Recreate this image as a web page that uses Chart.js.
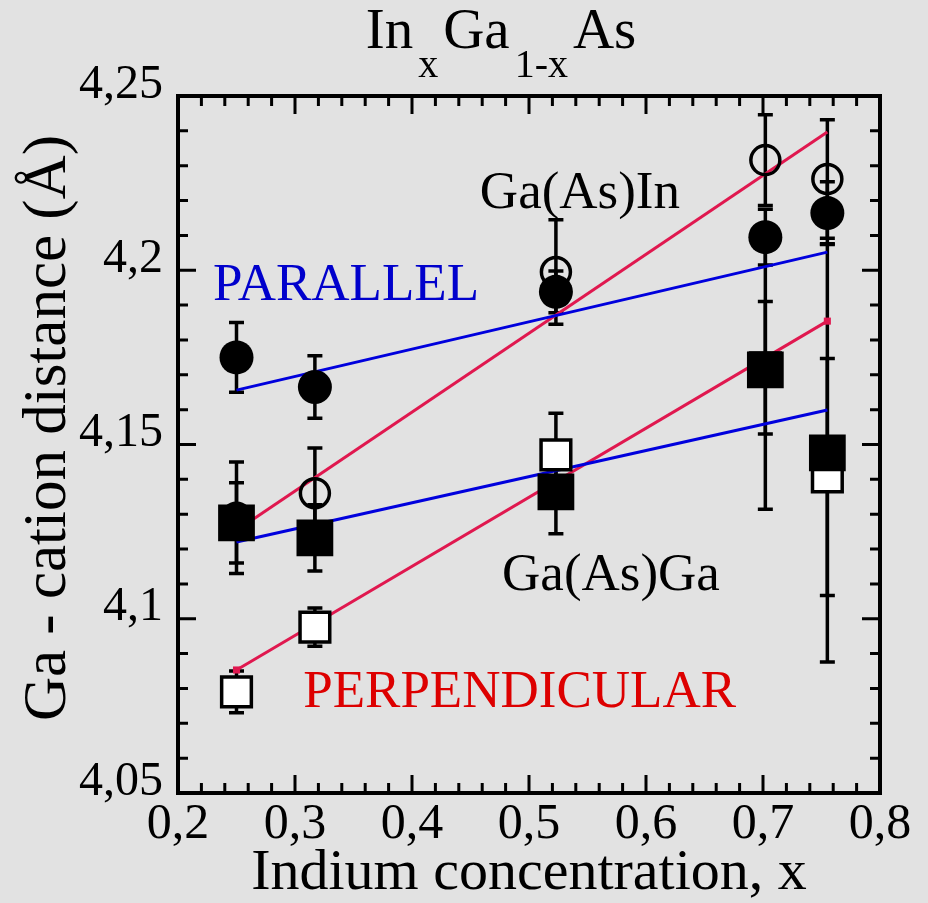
<!DOCTYPE html>
<html><head><meta charset="utf-8">
<script src="https://cdn.jsdelivr.net/npm/chart.js@4.4.1/dist/chart.umd.min.js"></script>
<style>html,body{margin:0;padding:0;background:#e2e2e2;}#wrap{width:928px;height:903px;}</style>
</head><body><div id="wrap"><canvas id="c" width="928" height="903"></canvas></div>
<script>
// ---- data ----
const indiumX = [0.25, 0.317, 0.523, 0.702, 0.755];
const parInY   = [4.175, 4.1665, 4.1938, 4.2095, 4.2164];   // filled circles
const parInErr = [0.010, 0.009, 0.006, 0.008, 0.009];
const perpInY   = [4.129, 4.136, 4.1995, 4.2316, 4.2262];   // open circles
const perpInErr = [0.016, 0.013, 0.015, 0.013, 0.017];
const parGaY   = [4.1275, 4.1232, 4.1364, 4.1714, 4.1476];  // filled squares
const parGaErr = [0.0115, 0.0095, 0.012, 0.040, 0.060];
const perpGaY   = [4.079, 4.0976, 4.147, 4.172, 4.1407];    // open squares
const perpGaErr = [0.006, 0.0055, 0.012, 0.019, 0.034];
const fitX = [0.25, 0.755];
const fitParInY  = [4.1656, 4.2052];
const fitParGaY  = [4.122, 4.1599];
const fitPerpInY = [4.1253, 4.2397];
const fitPerpGaY = [4.0853, 4.1854];
const xTickValues = [0.2, 0.3, 0.4, 0.5, 0.6, 0.7, 0.8];
const xTickLabels = ['0,2', '0,3', '0,4', '0,5', '0,6', '0,7', '0,8'];
const yTickValues = [4.05, 4.1, 4.15, 4.2, 4.25];
const yTickLabels = ['4,05', '4,1', '4,15', '4,2', '4,25'];
const yAxisTitle = 'Ga - cation distance (Å)';
const xAxisTitle = 'Indium concentration, x';
const annotations = [
  {text: 'Ga(As)In', x: 0.458, y: 4.218, color: '#000000'},
  {text: 'PARALLEL', x: 0.230, y: 4.1915, color: '#0000cc'},
  {text: 'Ga(As)Ga', x: 0.477, y: 4.1083, color: '#000000'},
  {text: 'PERPENDICULAR', x: 0.307, y: 4.0747, color: '#dd0000'}
];

const pts = (xs, ys) => xs.map((x, i) => ({x, y: ys[i]}));
const SERIF = '"Liberation Serif", "Times New Roman", serif';
const BLUE = '#0000dd', RED = '#e0184f';

const bgPlugin = {
  id: 'bg',
  beforeDraw(chart) {
    const c = chart.ctx; c.save(); c.fillStyle = '#e2e2e2';
    c.fillRect(0, 0, chart.width, chart.height); c.restore();
  }
};

const errorSets = [
  {y: perpInY, e: perpInErr}, {y: parInY, e: parInErr},
  {y: perpGaY, e: perpGaErr}, {y: parGaY, e: parGaErr}
];
const errorBars = {
  id: 'errorBars',
  beforeDatasetsDraw(chart) {
    const {ctx, scales: {x, y}} = chart;
    ctx.save(); ctx.strokeStyle = '#000'; ctx.lineWidth = 3.5;
    errorSets.forEach(s => {
      indiumX.forEach((xv, i) => {
        const px = x.getPixelForValue(xv);
        const t = y.getPixelForValue(s.y[i] + s.e[i]);
        const b = y.getPixelForValue(s.y[i] - s.e[i]);
        ctx.beginPath();
        ctx.moveTo(px, t); ctx.lineTo(px, b);
        ctx.moveTo(px - 7.5, t); ctx.lineTo(px + 7.5, t);
        ctx.moveTo(px - 7.5, b); ctx.lineTo(px + 7.5, b);
        ctx.stroke();
      });
    });
    ctx.restore();
  }
};

const frameTicks = {
  id: 'frameTicks',
  afterDatasetsDraw(chart) {
    const {ctx, chartArea: a, scales: {x, y}} = chart;
    ctx.save(); ctx.strokeStyle = '#000'; ctx.lineWidth = 3;
    for (let i = 0; i <= 30; i++) {
      const px = x.getPixelForValue(0.2 + i * 0.02);
      const L = i % 5 === 0 ? 18 : 10;
      ctx.beginPath();
      ctx.moveTo(px, a.bottom); ctx.lineTo(px, a.bottom - L);
      ctx.moveTo(px, a.top); ctx.lineTo(px, a.top + L);
      ctx.stroke();
    }
    for (let i = 0; i <= 20; i++) {
      const py = y.getPixelForValue(4.05 + i * 0.01);
      const L = i % 5 === 0 ? 18 : 10;
      ctx.beginPath();
      ctx.moveTo(a.left, py); ctx.lineTo(a.left + L, py);
      ctx.moveTo(a.right, py); ctx.lineTo(a.right - L, py);
      ctx.stroke();
    }
    ctx.lineWidth = 4;
    ctx.strokeRect(a.left, a.top, a.right - a.left, a.bottom - a.top);
    // annotations
    ctx.font = '53px ' + SERIF; ctx.textAlign = 'left'; ctx.textBaseline = 'alphabetic';
    annotations.forEach(an => {
      ctx.fillStyle = an.color;
      ctx.fillText(an.text, x.getPixelForValue(an.x), y.getPixelForValue(an.y));
    });
    ctx.restore();
  }
};

const titlePlugin = {
  id: 'formulaTitle',
  afterDraw(chart) {
    const ctx = chart.ctx;
    const parts = [
      {t: 'In', sub: false}, {t: 'x', sub: true}, {t: 'Ga', sub: false},
      {t: '1-x', sub: true}, {t: 'As', sub: false}
    ];
    const mainF = '57px ' + SERIF, subF = '40px ' + SERIF, gap = 5;
    ctx.save(); ctx.fillStyle = '#000'; ctx.textBaseline = 'alphabetic'; ctx.textAlign = 'left';
    let total = 0;
    parts.forEach((p, i) => { ctx.font = p.sub ? subF : mainF; p.w = ctx.measureText(p.t).width; total += p.w + (i ? gap : 0); });
    let cx = 501 - total / 2;
    parts.forEach(p => {
      ctx.font = p.sub ? subF : mainF;
      ctx.fillText(p.t, cx, p.sub ? 77 : 48);
      cx += p.w + gap;
    });
    // y axis title (rotated)
    ctx.translate(65, 428);
    ctx.rotate(-Math.PI / 2);
    ctx.font = '61px ' + SERIF; ctx.textAlign = 'center';
    ctx.fillText(yAxisTitle, 0, 0);
    ctx.restore();
  }
};

function build() {
  new Chart(document.getElementById('c'), {
    type: 'scatter',
    data: {
      datasets: [
        {data: pts(indiumX, parGaY), order: 1, pointStyle: 'rect', pointRadius: 26, backgroundColor: '#000', borderColor: '#000', borderWidth: 0},
        {data: pts(indiumX, parInY), order: 2, pointStyle: 'circle', pointRadius: 17, backgroundColor: '#000', borderColor: '#000', borderWidth: 0},
        {data: pts(indiumX, perpGaY), order: 3, pointStyle: 'rect', pointRadius: 21, backgroundColor: '#fff', borderColor: '#000', borderWidth: 3.5},
        {data: pts(indiumX, perpInY), order: 4, pointStyle: 'circle', pointRadius: 14.5, backgroundColor: 'rgba(0,0,0,0)', borderColor: '#000', borderWidth: 3.5},
        {data: pts(fitX, fitParInY), order: 5, showLine: true, borderColor: BLUE, borderWidth: 3, pointRadius: 0},
        {data: pts(fitX, fitParGaY), order: 5, showLine: true, borderColor: BLUE, borderWidth: 3, pointRadius: 0},
        {data: pts(fitX, fitPerpInY), order: 5, showLine: true, borderColor: RED, borderWidth: 3, pointRadius: 0},
        {data: pts(fitX, fitPerpGaY), order: 5, showLine: true, borderColor: RED, borderWidth: 3, pointStyle: 'rect', pointRadius: 5, backgroundColor: RED, pointBorderWidth: 0}
      ]
    },
    options: {
      responsive: false, animation: false, events: [], devicePixelRatio: 1,
      layout: {padding: {top: 96, right: 48, left: 0, bottom: 0}},
      plugins: {legend: {display: false}, tooltip: {enabled: false}},
      scales: {
        x: {
          type: 'linear', min: 0.2, max: 0.8,
          afterBuildTicks: s => { s.ticks = xTickValues.map(v => ({value: v})); },
          afterFit: s => { s.height = 110; },
          grid: {display: false, drawTicks: false}, border: {display: false},
          ticks: {color: '#000', padding: 2, font: {family: SERIF, size: 50}, maxRotation: 0, autoSkip: false,
                  callback: (v, i) => xTickLabels[i]},
          title: {display: true, text: xAxisTitle, color: '#000',
                  font: {family: SERIF, size: 58, lineHeight: 1}, padding: {top: 0, bottom: 0}}
        },
        y: {
          type: 'linear', min: 4.05, max: 4.25,
          afterBuildTicks: s => { s.ticks = yTickValues.map(v => ({value: v})); },
          afterFit: s => { s.width = 178; },
          grid: {display: false, drawTicks: false}, border: {display: false},
          ticks: {color: '#000', padding: 15, labelOffset: -11, font: {family: SERIF, size: 48}, autoSkip: false,
                  callback: (v, i) => yTickLabels[i]},
          title: {display: false}
        }
      }
    },
    plugins: [bgPlugin, errorBars, frameTicks, titlePlugin]
  });
}
if (document.fonts && document.fonts.load) {
  Promise.all([document.fonts.load('52px "Liberation Serif"')]).then(build, build);
} else { build(); }
</script></body></html>
